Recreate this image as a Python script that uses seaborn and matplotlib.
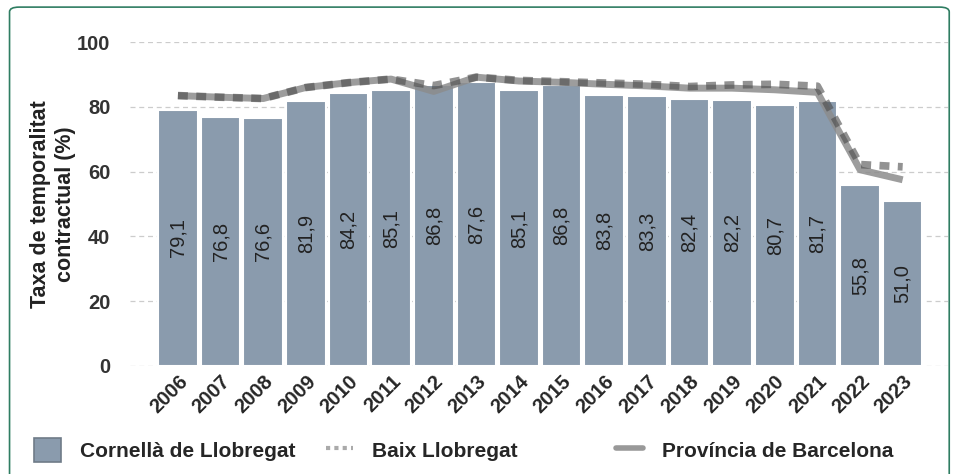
import numpy as np
import pandas as pd
import matplotlib.pyplot as plt
import seaborn as sns
from matplotlib.patches import Patch, FancyBboxPatch
from matplotlib.lines import Line2D

# dades
years = [str(y) for y in range(2006, 2024)]
cornella = [79.1, 76.8, 76.6, 81.9, 84.2, 85.1, 86.8, 87.6, 85.1, 86.8,
            83.8, 83.3, 82.4, 82.2, 80.7, 81.7, 55.8, 51.0]
baix = [83.5, 83.0, 82.6, 86.0, 87.5, 88.6, 86.6, 89.2, 88.2, 87.8,
        87.4, 87.0, 86.3, 86.8, 87.0, 86.4, 62.2, 61.5]
provincia = [83.5, 83.0, 82.6, 86.0, 87.5, 88.6, 84.8, 89.2, 88.0, 87.6,
             87.0, 86.5, 85.8, 85.8, 85.3, 84.5, 60.6, 57.5]

df = pd.DataFrame({'Any': years, 'Cornella': cornella})

sns.set_style('white')
plt.rcParams['font.family'] = ['Liberation Sans', 'DejaVu Sans']

fig = plt.figure(figsize=(9.54, 4.74), dpi=100)
ax = fig.add_axes([0.136, 0.228, 0.858, 0.683])

bar_color = '#8a9bad'
sns.barplot(data=df, x='Any', y='Cornella', color=bar_color, saturation=1,
            width=0.93, edgecolor='white', linewidth=1.5, ax=ax, zorder=2)

pos = np.arange(len(years))
ax.plot(pos, provincia, color='#8c8c8c', lw=5, alpha=0.85,
        solid_capstyle='butt', zorder=3)
ax.plot(pos, baix, color='#4a4a4a', lw=5.5, alpha=0.6,
        linestyle=(0, (1.3, 1.1)), dash_capstyle='butt', zorder=4)

# etiquetes de les barres (al mig de la barra)
for i, v in enumerate(cornella):
    ax.text(i, v / 2, f"{v:.1f}".replace('.', ','), rotation=90,
            ha='center', va='center', fontsize=14.5, color='#222222', zorder=5)

ax.set_ylim(0, 100)
ax.set_xlim(-1.13, 18.07)
ax.set_yticks([0, 20, 40, 60, 80, 100])
ax.yaxis.grid(True, linestyle=(0, (4, 3)), color='#cccccc', lw=0.9)
ax.set_axisbelow(True)
for s in ax.spines.values():
    s.set_visible(False)

ax.set_xlabel('')
ax.set_ylabel('Taxa de temporalitat\ncontractual (%)', fontsize=15.5,
              fontweight='bold', labelpad=1, color='#222222',
              linespacing=1.2)
ax.tick_params(axis='y', labelsize=14.5, pad=14, length=0, labelcolor='#333333')
ax.tick_params(axis='x', labelsize=14.5, length=0, pad=4)
for lab in ax.get_yticklabels():
    lab.set_fontweight('bold')
for lab in ax.get_xticklabels():
    lab.set_fontweight('bold')
    lab.set_rotation(45)
    lab.set_ha('right')
    lab.set_rotation_mode('anchor')

# llegenda: tres entrades col·locades com a l'original
items = [
    (Patch(facecolor=bar_color, edgecolor='#6f7b88', linewidth=1.2),
     'Cornellà de Llobregat', 0.036),
    (Line2D([0], [0], color='#aaaaaa', lw=3, linestyle=(0, (1, 1))),
     'Baix Llobregat', 0.342),
    (Line2D([0], [0], color='#999999', lw=4),
     'Província de Barcelona', 0.646),
]
for h, lab, x0 in items:
    fig.legend([h], [lab], loc='center left', bbox_to_anchor=(x0, 0.05),
               frameon=False, handlelength=1.3, handleheight=1.4,
               handletextpad=0.9, borderpad=0, borderaxespad=0,
               prop={'weight': 'bold', 'size': 15})

# marc arrodonit
frame = FancyBboxPatch((0.01, -0.05), 0.985, 1.035, transform=fig.transFigure,
                       boxstyle='round,pad=0,rounding_size=0.01',
                       fill=False, edgecolor='#2f7d62', lw=1.2, clip_on=False)
fig.patches.append(frame)

plt.savefig('out.png', dpi=100)
